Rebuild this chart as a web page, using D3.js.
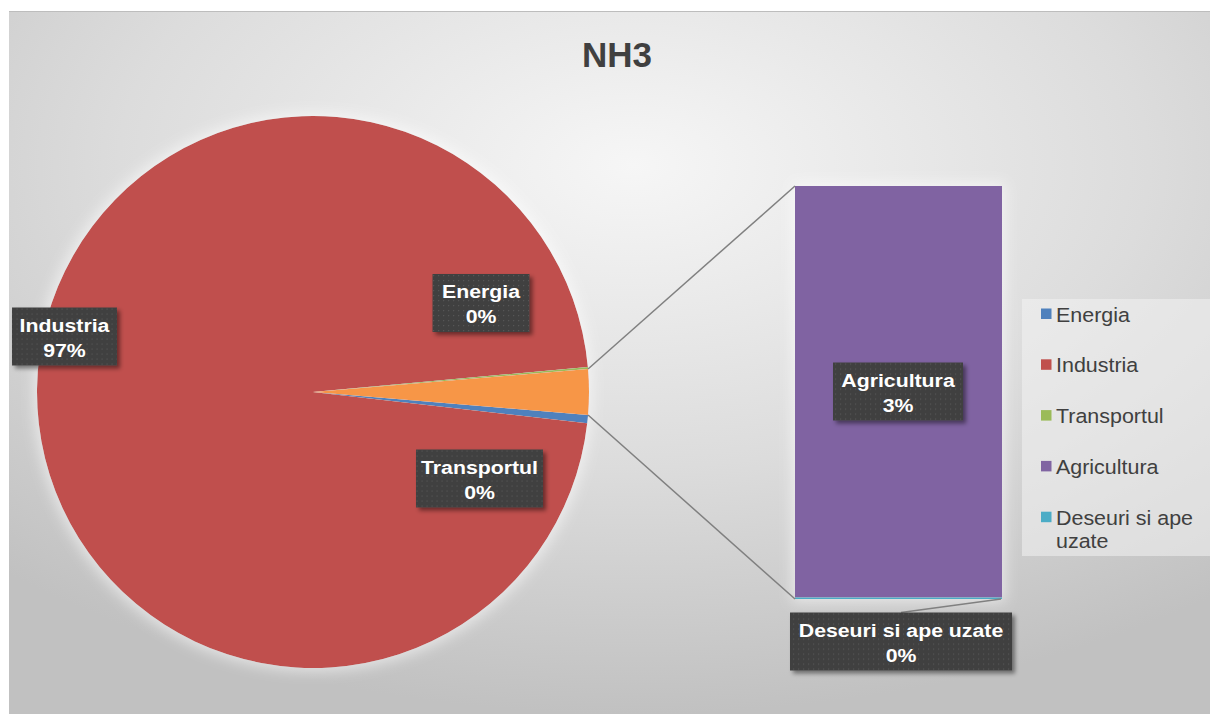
<!DOCTYPE html>
<html>
<head>
<meta charset="utf-8">
<script src="https://cdn.jsdelivr.net/npm/d3@7/dist/d3.min.js"></script>
<style>
  html, body { margin: 0; padding: 0; background: #ffffff; }
  svg { display: block; font-family: "Liberation Sans", Arial, sans-serif; }
</style>
</head>
<body>
<svg id="chart" width="1210" height="715"></svg>
<script>
// NH3 emissions by sector (share of total, %)
const title = "NH3";
const categories = ["Energia", "Industria", "Transportul", "Agricultura", "Deseuri si ape uzate"];
const values = [0.48, 96.74, 0.12, 2.65, 0.01];
const colors = ["#4f81bd", "#c0504d", "#9bbb59", "#8064a2", "#4bacc6"];
// the last categories are split out of the pie into the stacked bar
const secondaryCount = 2;
const otherColor = "#f79646";

const W = 1210, H = 715;
const svg = d3.select("#chart");
const defs = svg.append("defs");

// chart-area background: soft radial grey gradient
const bg = defs.append("radialGradient").attr("id", "bgGrad")
  .attr("cx", "52%").attr("cy", "22%").attr("r", "78%");
bg.append("stop").attr("offset", "0%").attr("stop-color", "#f6f6f6");
bg.append("stop").attr("offset", "55%").attr("stop-color", "#dcdcdc");
bg.append("stop").attr("offset", "100%").attr("stop-color", "#c1c1c1");

// dotted fill for the data-label boxes
const pat = defs.append("pattern").attr("id", "dots")
  .attr("width", 5).attr("height", 5).attr("patternUnits", "userSpaceOnUse");
pat.append("rect").attr("width", 5).attr("height", 5).attr("fill", "#3f3f3f");
pat.append("rect").attr("x", 2).attr("y", 2).attr("width", 1.2).attr("height", 1.2).attr("fill", "#575757");

// drop shadow for label boxes
const sh = defs.append("filter").attr("id", "shadow")
  .attr("x", "-20%").attr("y", "-20%").attr("width", "150%").attr("height", "160%");
sh.append("feDropShadow").attr("dx", 3).attr("dy", 3).attr("stdDeviation", 2)
  .attr("flood-color", "#000").attr("flood-opacity", 0.45);

// soft light glow around the pie and bar
const glow = defs.append("filter").attr("id", "glow")
  .attr("x", "-15%").attr("y", "-15%").attr("width", "130%").attr("height", "130%");
glow.append("feMorphology").attr("in", "SourceAlpha").attr("operator", "dilate").attr("radius", 3).attr("result", "d");
glow.append("feGaussianBlur").attr("in", "d").attr("stdDeviation", 7).attr("result", "b");
glow.append("feFlood").attr("flood-color", "#ffffff").attr("flood-opacity", 0.55);
glow.append("feComposite").attr("in2", "b").attr("operator", "in").attr("result", "g");
const gm = glow.append("feMerge");
gm.append("feMergeNode").attr("in", "g");
gm.append("feMergeNode").attr("in", "SourceGraphic");

// chart area
svg.append("rect").attr("x", 9).attr("y", 11).attr("width", W - 9).attr("height", H - 12)
  .attr("fill", "url(#bgGrad)");
svg.append("line").attr("x1", 9).attr("x2", W).attr("y1", 11.5).attr("y2", 11.5)
  .attr("stroke", "#bdbdbd").attr("stroke-width", 1);

// title
svg.append("text").attr("x", 617).attr("y", 67).attr("text-anchor", "middle")
  .attr("font-size", 35).attr("font-weight", "bold").attr("fill", "#404040").text(title);

const total = d3.sum(values);
const pct = d3.format(".0%");
const splitAt = values.length - secondaryCount;

// pie data: primary categories + one aggregated slice for the bar
const pieItems = categories.slice(0, splitAt).map((c, i) => ({ name: c, value: values[i], color: colors[i] }));
const otherValue = d3.sum(values.slice(splitAt));
pieItems.push({ name: "__other", value: otherValue, color: otherColor });

const cx = 313, cy = 392, R = 276;
const otherAngle = otherValue / total * 2 * Math.PI;
// the aggregated slice is centred on the right-hand side (3 o'clock)
const start = Math.PI / 2 + otherAngle / 2;
const pie = d3.pie().sort(null).value(d => d.value).startAngle(start).endAngle(start + 2 * Math.PI);
const arcs = pie(pieItems);
const arc = d3.arc().innerRadius(0).outerRadius(R);

const pieG = svg.append("g").attr("transform", `translate(${cx},${cy})`).attr("filter", "url(#glow)");
pieG.selectAll("path").data(arcs).join("path")
  .attr("d", arc).attr("fill", d => d.data.color);

// secondary stacked bar
const barX0 = 795, barX1 = 1002, barTop = 186, barBottom = 599;
const y = d3.scaleLinear().domain([0, otherValue]).range([barBottom, barTop]);
const secondary = categories.slice(splitAt).map((c, i) => ({ name: c, value: values[splitAt + i], color: colors[splitAt + i] }));
// stacked from the top down, the last category ends at the bottom
let acc = otherValue;
secondary.forEach(s => { s.y1 = acc; s.y0 = acc - s.value; acc = s.y0; });
const barG = svg.append("g").attr("filter", "url(#glow)");
barG.selectAll("rect").data(secondary).join("rect")
  .attr("x", barX0).attr("width", barX1 - barX0)
  .attr("y", d => y(d.y1)).attr("height", d => Math.max(1, y(d.y0) - y(d.y1)))
  .attr("fill", d => d.color);

// connector lines from the aggregated slice to the bar
const oArc = arcs[arcs.length - 1];
const pt = a => [cx + R * Math.sin(a), cy - R * Math.cos(a)];
const pTop = pt(oArc.startAngle), pBot = pt(oArc.endAngle);
svg.append("line").attr("x1", pTop[0]).attr("y1", pTop[1]).attr("x2", barX0).attr("y2", y(otherValue))
  .attr("stroke", "#808080").attr("stroke-width", 1.5);
svg.append("line").attr("x1", pBot[0]).attr("y1", pBot[1]).attr("x2", barX0).attr("y2", y(0))
  .attr("stroke", "#808080").attr("stroke-width", 1.5);

// data labels (box centre and width)
const labelLayout = {
  "Energia": { x: 481, y: 303, w: 97 },
  "Industria": { x: 64.5, y: 336.5, w: 105 },
  "Transportul": { x: 479.5, y: 478.5, w: 127 },
  "Agricultura": { x: 898, y: 391.5, w: 130 },
  "Deseuri si ape uzate": { x: 901, y: 641.5, w: 222 }
};

// leader line for the smallest bar segment
const des = secondary[secondary.length - 1];
svg.append("line").attr("x1", labelLayout[des.name].x).attr("y1", labelLayout[des.name].y - 29)
  .attr("x2", barX1 - 1).attr("y2", y(des.y0))
  .attr("stroke", "#808080").attr("stroke-width", 1.5);

const labels = categories.map((c, i) => ({ name: c, value: values[i], ...labelLayout[c] }));
const lg = svg.append("g").selectAll("g").data(labels).join("g")
  .attr("transform", d => `translate(${d.x},${d.y})`);
lg.append("rect").attr("x", d => -d.w / 2).attr("y", -29).attr("width", d => d.w).attr("height", 58)
  .attr("fill", "url(#dots)").attr("filter", "url(#shadow)");
lg.append("text").attr("text-anchor", "middle").attr("transform", "translate(0,-5) scale(1.15,1)")
  .attr("font-size", 18.5).attr("font-weight", "bold").attr("fill", "#ffffff").text(d => d.name);
lg.append("text").attr("text-anchor", "middle").attr("transform", "translate(0,20) scale(1.15,1)")
  .attr("font-size", 18.5).attr("font-weight", "bold").attr("fill", "#ffffff").text(d => pct(d.value / total));

// legend
svg.append("rect").attr("x", 1022).attr("y", 299).attr("width", 188).attr("height", 257)
  .attr("fill", "#f2f2f2").attr("fill-opacity", 0.55);
const legendWrap = { "Deseuri si ape uzate": ["Deseuri si ape", "uzate"] };
const li = svg.append("g").selectAll("g").data(categories).join("g")
  .attr("transform", (d, i) => `translate(1041,${314 + i * 50.8})`);
li.append("rect").attr("x", 0).attr("y", -5.5).attr("width", 10.5).attr("height", 10.5)
  .attr("fill", (d, i) => colors[i]);
li.append("text").attr("transform", "translate(15,7.5) scale(1.1,1)")
  .attr("font-size", 19.5).attr("fill", "#404040")
  .each(function(d) {
    const lines = legendWrap[d] || [d];
    d3.select(this).selectAll("tspan").data(lines).join("tspan")
      .attr("x", 0).attr("dy", (l, j) => j === 0 ? 0 : 23).text(l => l);
  });
</script>
</body>
</html>
